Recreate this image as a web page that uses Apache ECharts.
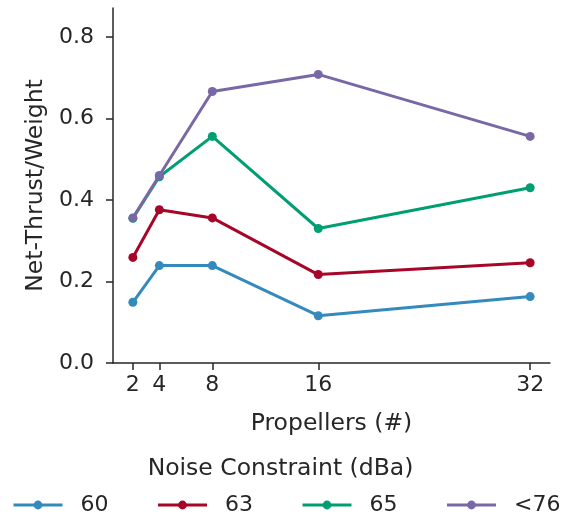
<!DOCTYPE html>
<html>
<head>
<meta charset="utf-8">
<script src="https://cdn.jsdelivr.net/npm/echarts@6/dist/echarts.min.js"></script>
<style>html,body{margin:0;padding:0;background:#fff}#c{width:561px;height:516px}</style>
</head>
<body>
<div id="c"></div>
<script>
const propellers = [2, 4, 8, 16, 32];
const xTicks = [2, 4, 8, 16, 32];
const yTicks = [0, 0.2, 0.4, 0.6, 0.8];
const seriesNames = ['60', '63', '65', '<76'];
const s60 = [0.149, 0.239, 0.239, 0.116, 0.163];
const s63 = [0.259, 0.376, 0.356, 0.217, 0.246];
const s65 = [0.355, 0.457, 0.556, 0.330, 0.430];
const s76 = [0.356, 0.460, 0.666, 0.708, 0.556];
const colors = ['#348ABD', '#A60628', '#009E73', '#7A68A6'];

const allData = [s60, s63, s65, s76];
const font = 'DejaVu Sans';
const txt = '#262626';

const chart = echarts.init(document.getElementById('c'), null, {renderer: 'canvas'});
chart.setOption({
  animation: false,
  color: colors,
  textStyle: {fontFamily: font},
  grid: {left: 113, right: 11, top: 8, bottom: 153, containLabel: false},
  title: {
    text: 'Noise Constraint (dBa)',
    left: 'center',
    top: 457,
    padding: 0,
    textStyle: {fontFamily: font, fontSize: 23.5, fontWeight: 'normal', color: txt}
  },
  legend: {
    left: 12,
    top: 494,
    width: 549,
    padding: 0,
    itemWidth: 49,
    itemHeight: 11,
    itemGap: 48,
    data: seriesNames,
    lineStyle: {width: 3},
    textStyle: {fontFamily: font, fontSize: 22, color: txt, padding: [0, 0, 0, 13]}
  },
  xAxis: {
    type: 'value',
    min: 0.5,
    max: 33.5,
    name: 'Propellers (#)',
    nameLocation: 'middle',
    nameGap: 49,
    nameTextStyle: {fontFamily: font, fontSize: 23.5, color: txt},
    axisLine: {lineStyle: {color: txt, width: 1.5}},
    axisTick: {show: true, length: 7, lineStyle: {color: txt, width: 1.5}, customValues: xTicks},
    axisLabel: {fontFamily: font, fontSize: 22, color: txt, margin: 11, customValues: xTicks},
    splitLine: {show: false}
  },
  yAxis: {
    type: 'value',
    min: 0,
    max: 0.871,
    name: 'Net-Thrust/Weight',
    nameLocation: 'middle',
    nameGap: 63,
    nameTextStyle: {fontFamily: font, fontSize: 23.5, color: txt},
    axisLine: {show: true, lineStyle: {color: txt, width: 1.5}},
    axisTick: {show: true, length: 7, lineStyle: {color: txt, width: 1.5}, customValues: yTicks},
    axisLabel: {fontFamily: font, fontSize: 22, color: txt, margin: 19, customValues: yTicks,
      formatter: v => v.toFixed(1)},
    splitLine: {show: false}
  },
  series: seriesNames.map((n, i) => ({
    name: n,
    type: 'line',
    data: propellers.map((x, j) => [x, allData[i][j]]),
    symbol: 'circle',
    symbolSize: 9,
    lineStyle: {width: 3, color: colors[i]},
    itemStyle: {color: colors[i]},
    z: 2 + i
  }))
});
</script>
</body>
</html>
